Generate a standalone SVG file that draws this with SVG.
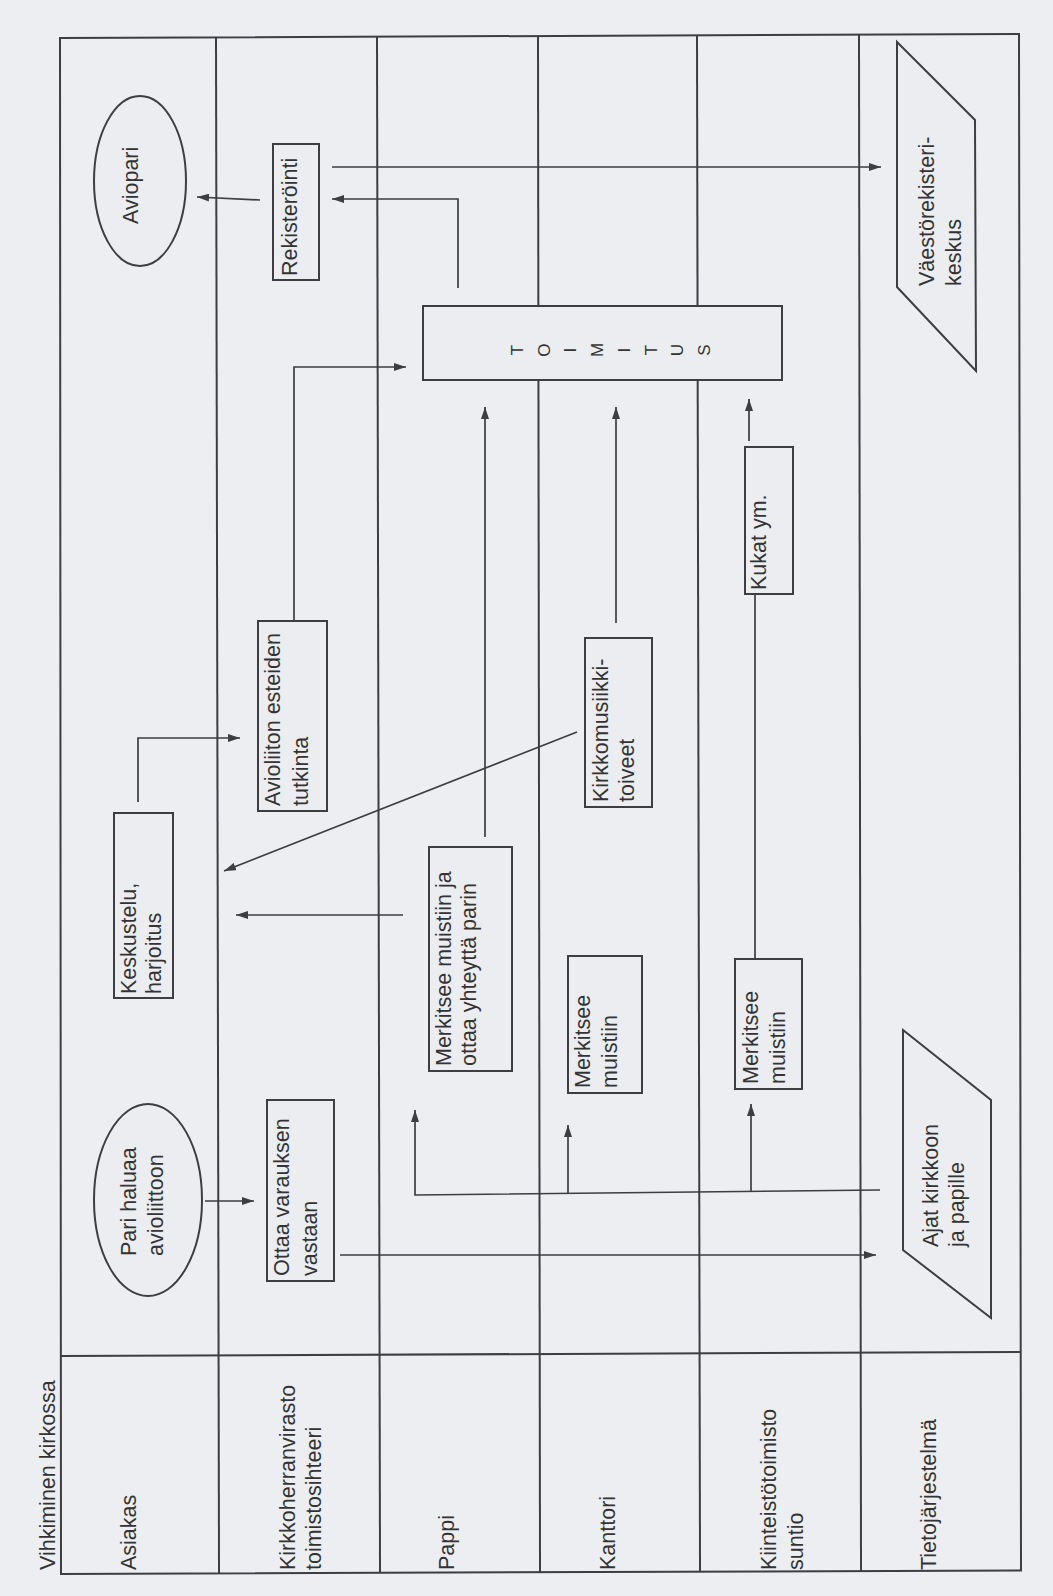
<svg xmlns="http://www.w3.org/2000/svg" width="1053" height="1596" viewBox="0 0 1053 1596">
<defs>
<style>
.ln{stroke:#3d3d42;stroke-width:2;fill:none}
.bx{fill:#ebedf1;stroke:#3d3d42;stroke-width:2}
.cn{stroke:#3d3d42;stroke-width:1.7;fill:none}
.ar{marker-end:url(#ah)}
.t{font-family:"Liberation Sans",Arial,sans-serif;font-size:21.5px;fill:#333}
.tm{font-family:"Liberation Sans",Arial,sans-serif;font-size:17px;fill:#333;text-anchor:middle;dominant-baseline:central}
</style>
<marker id="ah" viewBox="0 0 12 8" refX="12" refY="4" markerWidth="12" markerHeight="8" markerUnits="userSpaceOnUse" orient="auto">
<path d="M0,0 L12,4 L0,8 z" fill="#3d3d42"/>
</marker>
</defs>
<rect width="1053" height="1596" fill="#eceef2"/>

<g id="frame">
<polygon class="ln" points="60,38 1019,34 1021,1570.5 61,1574"/>
<line class="ln" x1="216" y1="37.5" x2="219" y2="1573.5"/>
<line class="ln" x1="377" y1="37" x2="380" y2="1573"/>
<line class="ln" x1="538" y1="36" x2="540" y2="1572.5"/>
<line class="ln" x1="697" y1="35.5" x2="700" y2="1572"/>
<line class="ln" x1="859" y1="35" x2="861" y2="1571"/>
<line class="ln" x1="60" y1="1356" x2="1020" y2="1352"/>
<text class="t" x="55" y="1570" transform="rotate(-90 55 1570)">Vihkiminen kirkossa</text>
<text class="t" x="136" y="1570" transform="rotate(-90 136 1570)">Asiakas</text>
<text class="t" x="295" y="1570" transform="rotate(-90 295 1570)">Kirkkoherranvirasto</text>
<text class="t" x="321" y="1570" transform="rotate(-90 321 1570)">toimistosihteeri</text>
<text class="t" x="454" y="1570" transform="rotate(-90 454 1570)">Pappi</text>
<text class="t" x="615" y="1570" transform="rotate(-90 615 1570)">Kanttori</text>
<text class="t" x="776" y="1570" transform="rotate(-90 776 1570)">Kiinteistötoimisto</text>
<text class="t" x="803" y="1570" transform="rotate(-90 803 1570)">suntio</text>
<text class="t" x="936" y="1570" transform="rotate(-90 936 1570)">Tietojärjestelmä</text>
</g>

<g id="connectors">
<path class="cn ar" d="M205,1201 H254"/>
<path class="cn ar" d="M340,1255 H876"/>
<path class="cn ar" d="M880,1190 L415,1195 V1110"/>
<path class="cn ar" d="M568,1193.4 V1125"/>
<path class="cn ar" d="M751,1191.4 V1104"/>
<path class="cn ar" d="M403,915 H236"/>
<path class="cn ar" d="M138,802 V738 H240"/>
<path class="cn ar" d="M294,621 V367 H406"/>
<path class="cn ar" d="M577,732 L224,871"/>
<path class="cn ar" d="M485,837 V407"/>
<path class="cn ar" d="M616,623 V407"/>
<path class="cn" d="M755,959 V594"/>
<path class="cn ar" d="M749,441 V399"/>
<path class="cn ar" d="M458,288 V199 H332"/>
<path class="cn ar" d="M260,200 L197,197"/>
<path class="cn ar" d="M332,167 H881"/>
</g>

<g id="aviopari">
<ellipse class="bx" cx="140" cy="181" rx="46" ry="85"/>
<text class="t" x="138" y="224" transform="rotate(-90 138 224)">Aviopari</text>
</g>

<g id="pari-haluaa">
<ellipse class="bx" cx="148" cy="1200" rx="54" ry="96"/>
<text class="t" x="136" y="1256" transform="rotate(-90 136 1256)">Pari haluaa</text>
<text class="t" x="163" y="1256" transform="rotate(-90 163 1256)">avioliittoon</text>
</g>

<g id="rekisterointi" transform="translate(273,280) rotate(-90)">
<rect class="bx" width="136" height="46"/>
<text class="t" x="4" y="24">Rekisteröinti</text>
</g>

<g id="avioliiton-esteiden" transform="translate(258,811) rotate(-90)">
<rect class="bx" width="190" height="69"/>
<text class="t" x="5" y="22">Avioliiton esteiden</text>
<text class="t" x="5" y="50">tutkinta</text>
</g>

<g id="keskustelu" transform="translate(114,998) rotate(-90)">
<rect class="bx" width="185" height="59"/>
<text class="t" x="4" y="22">Keskustelu,</text>
<text class="t" x="4" y="47">harjoitus</text>
</g>

<g id="merkitsee-pappi" transform="translate(429,1071) rotate(-90)">
<rect class="bx" width="224" height="83"/>
<text class="t" x="5" y="22">Merkitsee muistiin ja</text>
<text class="t" x="5" y="47">ottaa yhteyttä parin</text>
</g>

<g id="ottaa-varauksen" transform="translate(267,1281) rotate(-90)">
<rect class="bx" width="181" height="67"/>
<text class="t" x="5" y="22">Ottaa varauksen</text>
<text class="t" x="5" y="50">vastaan</text>
</g>

<g id="kirkkomusiikki" transform="translate(585,807) rotate(-90)">
<rect class="bx" width="169" height="67"/>
<text class="t" x="5" y="23">Kirkkomusiikki-</text>
<text class="t" x="5" y="49">toiveet</text>
</g>

<g id="merkitsee-kanttori" transform="translate(568,1093) rotate(-90)">
<rect class="bx" width="137" height="74"/>
<text class="t" x="5" y="22">Merkitsee</text>
<text class="t" x="5" y="49">muistiin</text>
</g>

<g id="merkitsee-suntio" transform="translate(735,1089) rotate(-90)">
<rect class="bx" width="130" height="67"/>
<text class="t" x="5" y="23">Merkitsee</text>
<text class="t" x="5" y="50">muistiin</text>
</g>

<g id="kukat" transform="translate(745,594) rotate(-90)">
<rect class="bx" width="147" height="48"/>
<text class="t" x="4" y="21">Kukat ym.</text>
</g>

<g id="toimitus">
<rect class="bx" x="423" y="306" width="359" height="74"/>
<text class="tm" x="517" y="350" transform="rotate(-90 517 350)">T</text>
<text class="tm" x="544" y="350" transform="rotate(-90 544 350)">O</text>
<text class="tm" x="570" y="350" transform="rotate(-90 570 350)">I</text>
<text class="tm" x="597" y="350" transform="rotate(-90 597 350)">M</text>
<text class="tm" x="624" y="350" transform="rotate(-90 624 350)">I</text>
<text class="tm" x="651" y="350" transform="rotate(-90 651 350)">T</text>
<text class="tm" x="677" y="350" transform="rotate(-90 677 350)">U</text>
<text class="tm" x="704" y="350" transform="rotate(-90 704 350)">S</text>
</g>

<g id="vaestorekisterikeskus">
<polygon class="bx" points="897,42 975,120 976,371 897,287"/>
<text class="t" x="934" y="286" transform="rotate(-90 934 286)">Väestörekisteri-</text>
<text class="t" x="961" y="286" transform="rotate(-90 961 286)">keskus</text>
</g>

<g id="ajat-kirkkoon">
<polygon class="bx" points="903,1030 991,1100 991,1318 903,1250"/>
<text class="t" x="938" y="1247" transform="rotate(-90 938 1247)">Ajat kirkkoon</text>
<text class="t" x="964" y="1247" transform="rotate(-90 964 1247)">ja papille</text>
</g>
</svg>
